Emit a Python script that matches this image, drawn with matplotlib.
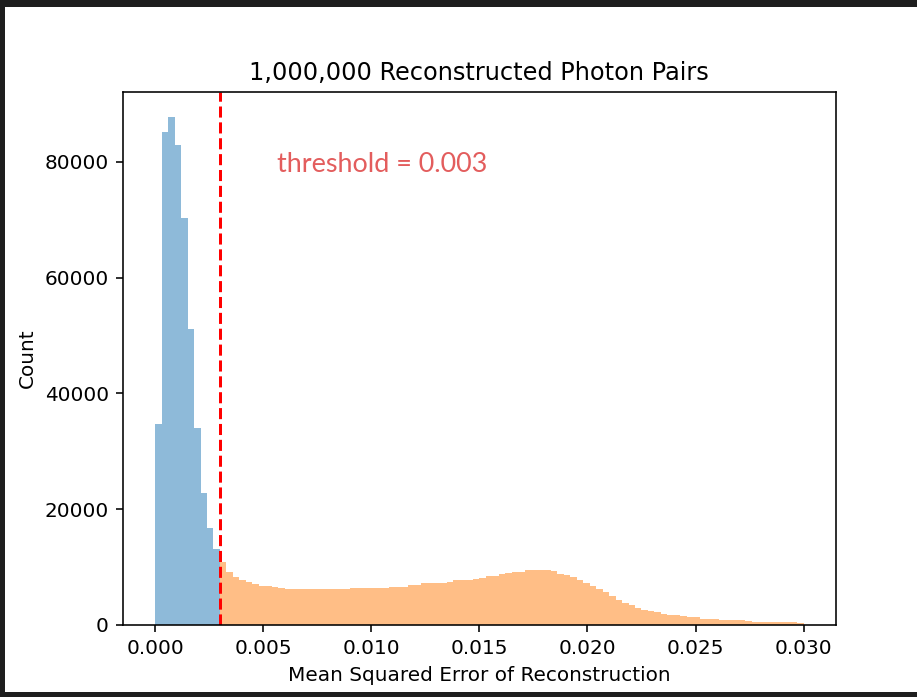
import numpy as np
import matplotlib
matplotlib.use("Agg")
import matplotlib.pyplot as plt
from matplotlib.patches import Rectangle

# histogram counts, 100 bins of width 0.0003 over [0, 0.03]
threshold = 0.003
blue_counts = [34700, 85200, 87700, 83000, 70300, 51200, 34000, 22800, 16700, 13200]
orange_counts = [
    10800, 9200, 8300, 7700, 7400, 7000, 6800, 6700, 6500, 6400,
    6300, 6300, 6250, 6250, 6250, 6250, 6250, 6250, 6250, 6250,
    6400, 6400, 6400, 6400, 6400, 6400,
    6650, 6650, 6650,
    6950, 6950,
    7200, 7200, 7200, 7200,
    7500,
    7700, 7700, 7700,
    7900, 8200, 8450, 8450, 8750, 9000, 9200, 9200,
    9450, 9450, 9450, 9450,
    9250, 8850, 8600, 8250, 7700, 7250, 6800, 6250, 5650, 4950, 4350,
    3800, 3400, 3000, 2600, 2400, 2250, 1950, 1800, 1650, 1550, 1350, 1300,
    1100, 1050, 1000,
    800, 800, 780, 780, 760,
    600, 600, 590, 590, 580, 570, 560,
    350,
]
title = "1,000,000 Reconstructed Photon Pairs"
xlabel = "Mean Squared Error of Reconstruction"
ylabel = "Count"
note = "threshold = 0.003"

edges = np.linspace(0, 0.03, len(blue_counts) + len(orange_counts) + 1)
nb = len(blue_counts)

dpi = 143.75
fig = plt.figure(figsize=(917 / dpi, 697 / dpi), dpi=dpi, facecolor="#1e1e1e")
# white card on the dark background
fig.patches.append(Rectangle((5 / 917, 5 / 697), 912 / 917, 685 / 697,
                             transform=fig.transFigure, facecolor="white",
                             edgecolor="none", zorder=-10))

ax = fig.add_axes([0.1338, 0.1033, 0.7779, 0.7647])
ax.hist(edges[:nb], bins=edges[:nb + 1], weights=blue_counts, alpha=0.5)
ax.hist(edges[nb:-1], bins=edges[nb:], weights=orange_counts, alpha=0.5)
ax.axvline(threshold, color="r", linestyle="--")
ax.text(0.00565, 78200, note, color="#e35d5d", fontsize=13.5,
        family=["Lato", "DejaVu Sans"])

ax.set_title(title)
ax.set_xlabel(xlabel)
ax.set_ylabel(ylabel)

fig.savefig("out.png", dpi=dpi, facecolor=fig.get_facecolor())
